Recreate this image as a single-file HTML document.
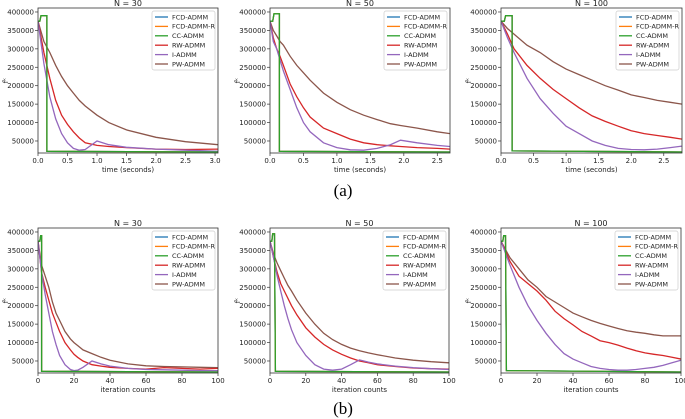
<!DOCTYPE html>
<html><head><meta charset="utf-8"><style>
body{margin:0;background:#fff}
svg{display:block;font-family:"DejaVu Sans","Liberation Sans",sans-serif}
</style></head><body>
<svg id="fig" width="685" height="419" viewBox="0 0 685 419" xmlns="http://www.w3.org/2000/svg">
<text x="343" y="196" font-family="Liberation Serif,serif" font-size="17" text-anchor="middle">(a)</text>
<text x="343" y="414" font-family="Liberation Serif,serif" font-size="17" text-anchor="middle">(b)</text>
</svg>
<script>
const seriesNames=["FCD-ADMM","FCD-ADMM-R","CC-ADMM","RW-ADMM","I-ADMM","PW-ADMM"];
const colors=["#1f77b4","#ff7f0e","#2ca02c","#d62728","#9467bd","#8c564b"];
const yTicks=[50000,100000,150000,200000,250000,300000,350000,400000];
// Panel (a1) N=30 time
const a1X=[0,0.1,0.2,0.3,0.4,0.5,0.6,0.7,0.8,1.0,1.2,1.5,2.0,2.5,3.05];
const a1RW=[375,290,220,160,120,95,75,58,45,38,35,32,28,27,28];
const a1I=[375,260,170,110,70,45,30,25,27,50,40,33,28,25,22];
const a1PW=[375,320,290,255,225,200,180,160,145,120,100,80,60,48,40];
const a1CCx=[0,0.03,0.05,0.15,0.15,3.05];
const a1CC=[375,375,390,390,22,20];
// Panel (a2) N=50 time
const a2X=[0,0.05,0.1,0.15,0.2,0.3,0.4,0.5,0.6,0.8,1.0,1.2,1.4,1.6,1.8,1.95,2.2,2.5,2.69];
const a2RW=[375,330,300,280,255,205,170,140,115,85,70,55,45,40,37,35,32,30,28];
const a2I=[375,320,300,270,240,190,140,100,75,45,32,26,25,30,40,52,45,38,35];
const a2PW=[375,350,335,320,310,280,255,235,215,180,155,135,120,108,97,92,85,75,70];
const a2CCx=[0,0.04,0.06,0.14,0.14,2.69];
const a2CC=[375,375,395,395,22,20];
// Panel (a3) N=100 time
const a3X=[0,0.1,0.2,0.4,0.6,0.8,1.0,1.2,1.4,1.6,1.8,2.0,2.2,2.4,2.6,2.78];
const a3RW=[375,340,300,255,220,190,165,140,118,103,90,78,70,65,60,55];
const a3I=[375,330,290,220,165,125,90,70,50,38,30,27,26,28,32,36];
const a3PW=[375,355,340,310,290,265,245,230,215,200,188,175,168,160,155,150];
const a3CCx=[0,0.05,0.07,0.17,0.17,2.78];
const a3CC=[375,375,390,390,23,20];
// Panel (b1) N=30 iterations
const b1X=[0,2,4,6,8,10,12,15,18,20,22,25,30,35,40,50,60,70,80,90,100];
const b1RW=[375,290,250,215,180,155,130,100,80,68,60,50,40,36,33,30,28,32,30,28,30];
const b1I=[375,290,230,180,130,95,65,40,27,24,25,33,50,42,36,30,27,26,25,24,24];
const b1PW=[375,310,280,250,210,180,160,130,110,100,92,80,70,60,52,42,37,35,34,33,32];
const b1CCx=[0,1,1.5,2,2,100];
const b1CC=[375,375,390,390,22,20];
// Panel (b2) N=50 iterations
const b2X=[0,2,4,6,8,10,12,15,20,25,30,35,40,45,50,55,60,70,80,90,100];
const b2RW=[375,330,290,260,240,220,200,175,140,115,95,80,68,58,50,45,40,35,31,29,28];
const b2I=[375,330,280,240,200,165,135,100,65,40,28,25,28,40,53,47,42,36,32,29,27];
const b2PW=[375,340,315,295,275,255,240,215,180,150,125,108,95,85,78,72,67,58,52,48,45];
const b2CCx=[0,1,1.5,2.5,3,100];
const b2CC=[375,375,395,395,22,20];
// Panel (b3) N=100 iterations
const b3X=[0,5,10,15,20,25,30,35,40,45,50,55,60,65,70,75,80,85,90,95,100];
const b3RW=[375,320,280,260,240,215,185,165,148,130,118,105,100,93,85,78,72,68,65,60,55];
const b3I=[375,310,250,200,160,125,95,70,55,45,35,30,27,25,25,27,30,33,38,45,52];
const b3PW=[375,330,300,270,250,225,210,195,180,170,160,152,145,138,132,128,125,121,118,118,118];
const b3CCx=[0,1,1.5,2.5,3,100];
const b3CC=[375,375,390,390,24,20];

const panels=[
 {id:"a1",title:"N = 30",L:38,R:218,T:8,B:153,xmax:3.05,xt:[0,0.5,1,1.5,2,2.5,3],xl:"time (seconds)",X:a1X,RW:a1RW,I:a1I,PW:a1PW,CCx:a1CCx,CC:a1CC,dec:1},
 {id:"a2",title:"N = 50",L:270,R:450,T:8,B:153,xmax:2.69,xt:[0,0.5,1,1.5,2,2.5],xl:"time (seconds)",X:a2X,RW:a2RW,I:a2I,PW:a2PW,CCx:a2CCx,CC:a2CC,dec:1},
 {id:"a3",title:"N = 100",L:501,R:682,T:8,B:153,xmax:2.78,xt:[0,0.5,1,1.5,2,2.5],xl:"time (seconds)",X:a3X,RW:a3RW,I:a3I,PW:a3PW,CCx:a3CCx,CC:a3CC,dec:1},
 {id:"b1",title:"N = 30",L:38,R:218,T:228,B:373,xmax:100,xt:[0,20,40,60,80,100],xl:"iteration counts",X:b1X,RW:b1RW,I:b1I,PW:b1PW,CCx:b1CCx,CC:b1CC,dec:0},
 {id:"b2",title:"N = 50",L:270,R:449,T:228,B:373,xmax:100,xt:[0,20,40,60,80,100],xl:"iteration counts",X:b2X,RW:b2RW,I:b2I,PW:b2PW,CCx:b2CCx,CC:b2CC,dec:0},
 {id:"b3",title:"N = 100",L:501,R:681,T:228,B:373,xmax:100,xt:[0,20,40,60,80,100],xl:"iteration counts",X:b3X,RW:b3RW,I:b3I,PW:b3PW,CCx:b3CCx,CC:b3CC,dec:0}
];
const NS="http://www.w3.org/2000/svg";
const svg=document.getElementById("fig");
function mk(tag,attrs,parent){const e=document.createElementNS(NS,tag);for(const k in attrs)e.setAttribute(k,attrs[k]);(parent||svg).appendChild(e);return e;}
const ymin=17400,ymax=410800;
panels.forEach(p=>{
 const g=mk("g",{});
 
 
 const sx=v=>p.L+(v/p.xmax)*(p.R-p.L);
 const sy=v=>p.B-(v-ymin)/(ymax-ymin)*(p.B-p.T);
 const clip=mk("clipPath",{id:"c"+p.id},g);
 mk("rect",{x:p.L,y:p.T,width:p.R-p.L,height:p.B-p.T},clip);
 const pts=(xs,ys)=>xs.map((x,i)=>sx(x).toFixed(1)+","+sy(ys[i]*1000).toFixed(1)).join(" ");
 const lg=mk("g",{"clip-path":"url(#c"+p.id+")"},g);
 [[p.CCx,p.CC,0],[p.CCx,p.CC,1],[p.X,p.PW,5],[p.X,p.RW,3],[p.X,p.I,4],[p.CCx,p.CC,2]].forEach(s=>{
  const l=mk("polyline",{points:pts(s[0],s[1]),fill:"none",stroke:colors[s[2]],"stroke-width":1.3},lg);
  
  
 });
 const fr=mk("rect",{x:p.L,y:p.T,width:p.R-p.L,height:p.B-p.T,fill:"none",stroke:"#333","stroke-width":0.8},g);
 
 
 yTicks.forEach(v=>{const y=sy(v);
  mk("line",{x1:p.L-3,x2:p.L,y1:y,y2:y,stroke:"#333","stroke-width":0.7},g);
  const t=mk("text",{x:p.L-4,y:y+2.5,"font-size":7,"text-anchor":"end",fill:"#222"},g);t.textContent=v;
  
  
 });
 p.xt.forEach(v=>{const x=sx(v);
  mk("line",{x1:x,x2:x,y1:p.B,y2:p.B+3,stroke:"#333","stroke-width":0.7},g);
  const t=mk("text",{x:x,y:p.B+10,"font-size":7,"text-anchor":"middle",fill:"#222"},g);t.textContent=p.dec?v.toFixed(1):v;
  
  
 });
 const xl=mk("text",{x:(p.L+p.R)/2,y:p.B+19,"font-size":7,"text-anchor":"middle",fill:"#222"},g);xl.textContent=p.xl;
 
 
 const tt=mk("text",{x:(p.L+p.R)/2,y:p.T-2,"font-size":8,"text-anchor":"middle",fill:"#222"},g);tt.textContent=p.title;
 
 
 const yl=mk("text",{x:0,y:0,"font-size":7,"text-anchor":"middle",fill:"#222",transform:"translate("+(p.L-30)+","+((p.T+p.B)/2)+") rotate(-90)"},g);yl.textContent="f\u1D4F";
 
 
 const lx=p.R-66,ly=p.T+3;
 const leg=mk("g",{},g);
 
 
 mk("rect",{x:lx,y:ly,width:63,height:59,fill:"#fff","fill-opacity":0.85,stroke:"#ccc","stroke-width":0.7,rx:2},leg);
 seriesNames.forEach((n,i)=>{const y=ly+6+i*9.4;
  mk("line",{x1:lx+3,x2:lx+16,y1:y,y2:y,stroke:colors[i],"stroke-width":1.3},leg);
  const t=mk("text",{x:lx+20,y:y+2.3,"font-size":6.5,fill:"#222"},leg);t.textContent=n;
  
  
 });
});
</script>
</body></html>
